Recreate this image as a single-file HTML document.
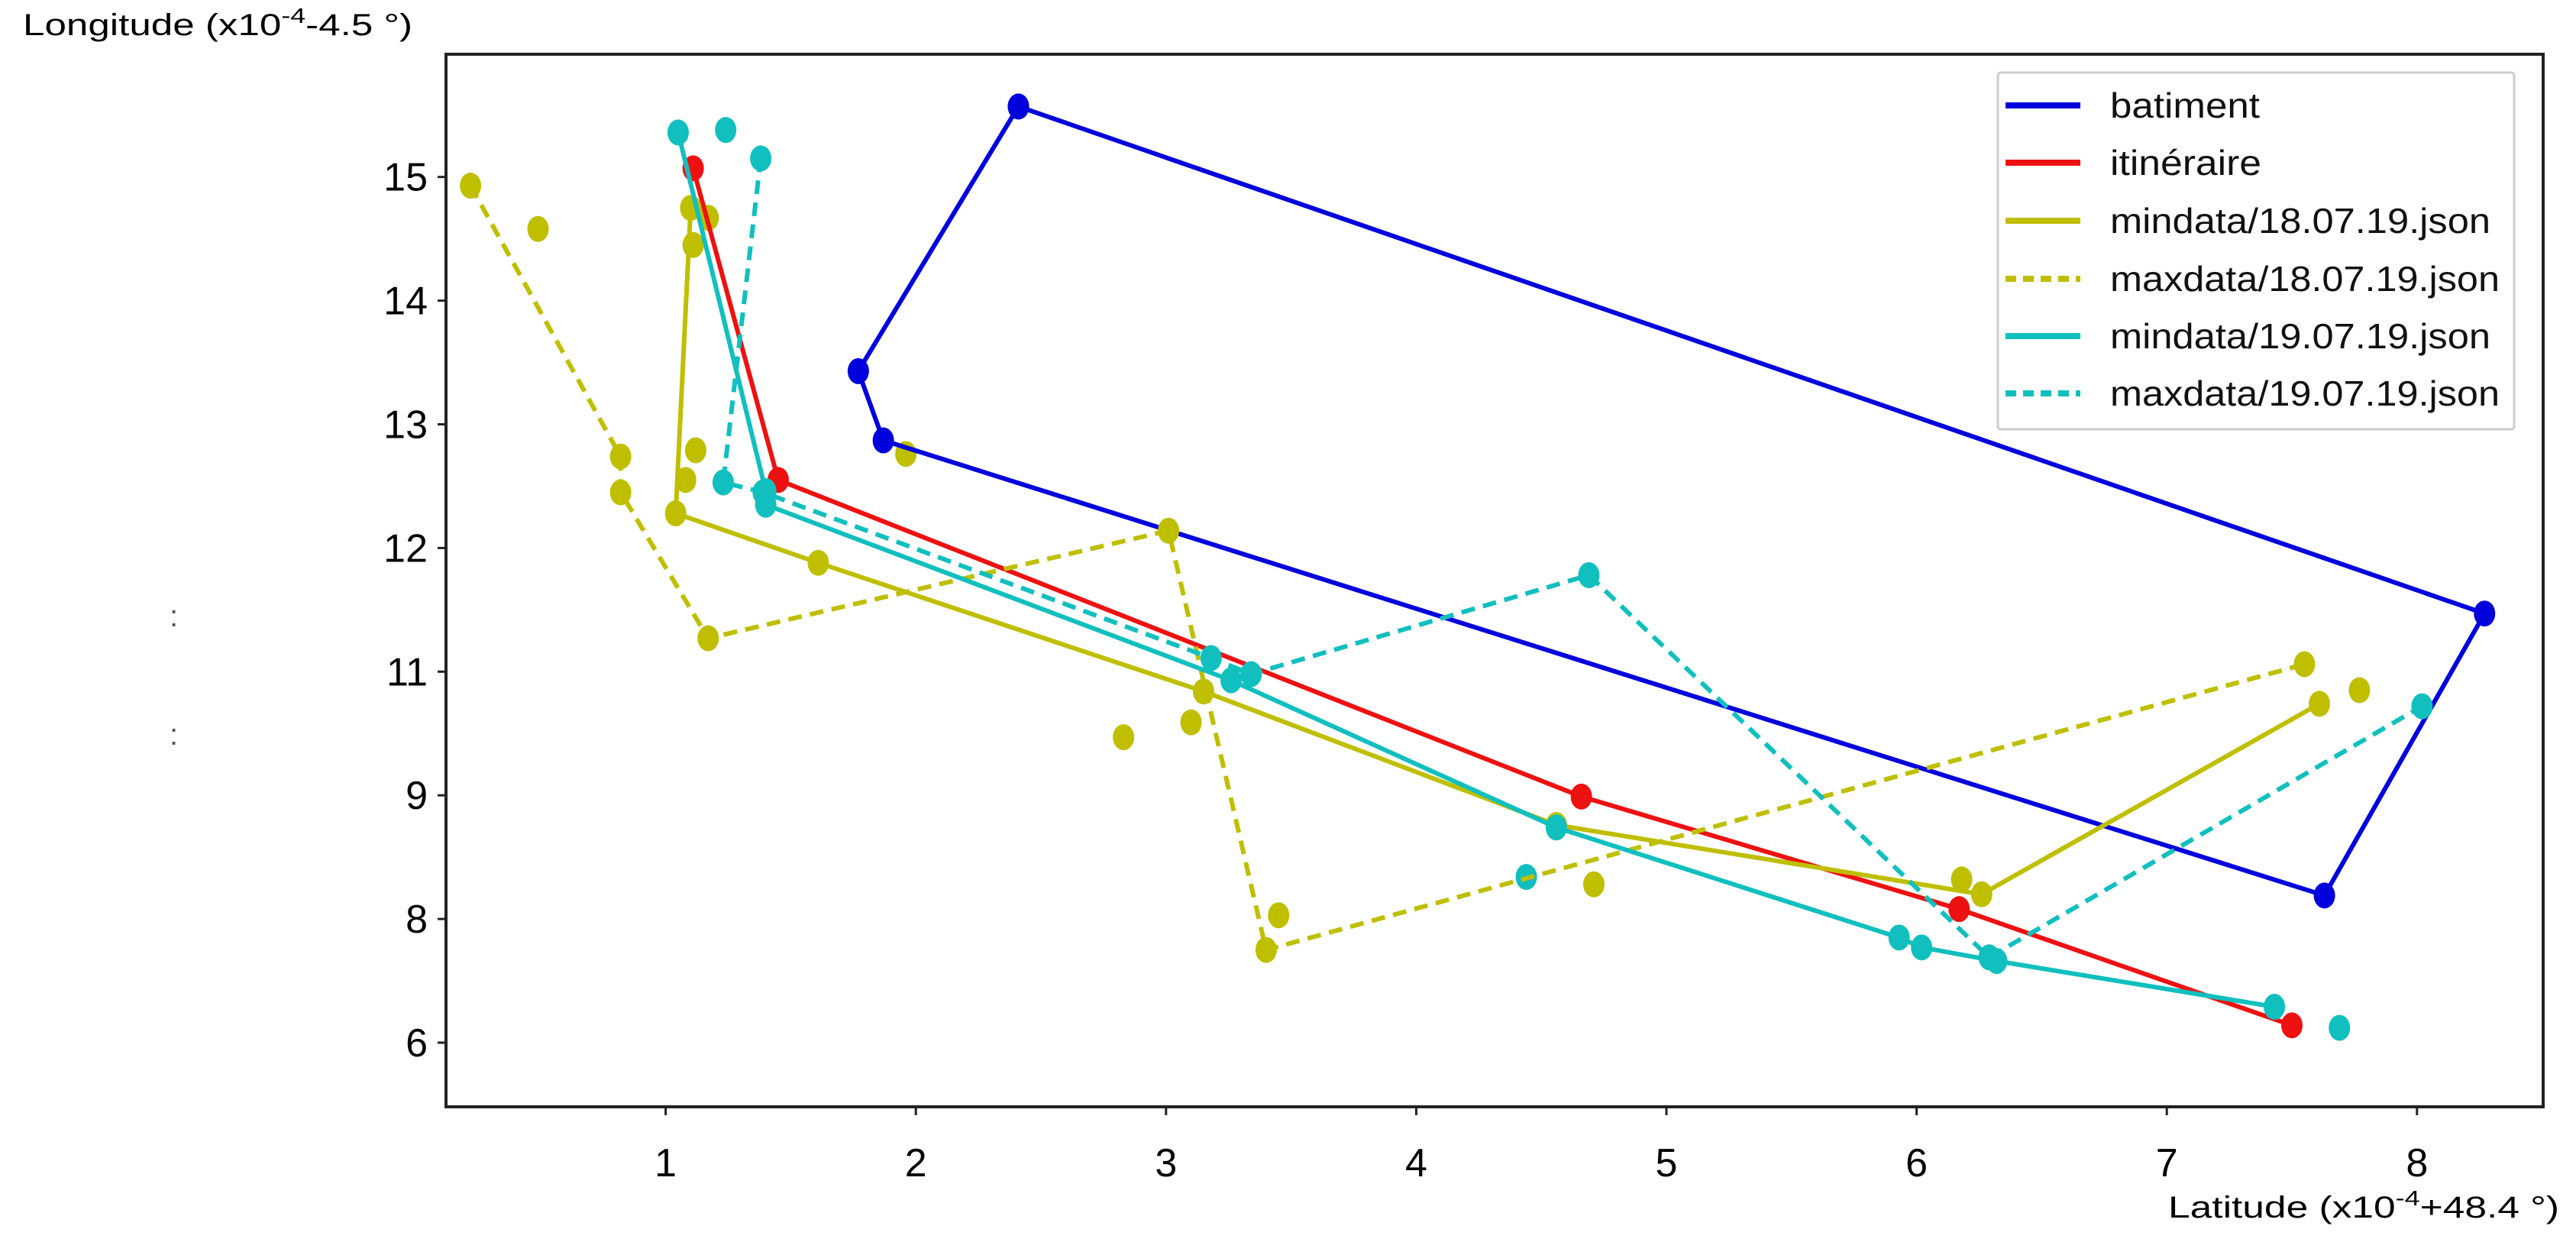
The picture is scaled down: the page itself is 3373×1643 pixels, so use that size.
<!DOCTYPE html>
<html><head><meta charset="utf-8"><style>
html,body{margin:0;padding:0;background:#fff;}
svg{display:block;font-family:"Liberation Sans",sans-serif;}
</style></head><body>
<svg id="chart" width="3373" height="1643" viewBox="0 0 3373 1643" xmlns="http://www.w3.org/2000/svg">
<rect x="0" y="0" width="3373" height="1643" fill="#fff"/>
<g id="plot"></g>
<rect x="584" y="71" width="2746" height="1378" fill="none" stroke="#222" stroke-width="4"/>
<g id="ticks"></g>
<text x="30" y="46" font-size="40" fill="#000" textLength="510" lengthAdjust="spacingAndGlyphs">Longitude (x10<tspan dy="-16" font-size="28">-4</tspan><tspan dy="16">-4.5 °)</tspan></text>
<text x="2839" y="1594" font-size="40" fill="#000" textLength="512" lengthAdjust="spacingAndGlyphs">Latitude (x10<tspan dy="-16" font-size="28">-4</tspan><tspan dy="16">+48.4 °)</tspan></text>
<text x="222" y="820" font-size="40" fill="#555">:</text>
<text x="222" y="975" font-size="40" fill="#555">:</text>
<g id="legend">
<rect x="2616" y="95" width="676" height="467" fill="#fff" stroke="#ccc" stroke-width="3" rx="4"/>
</g>
</svg>
<script>
const xTicks=[1,2,3,4,5,6,7,8];
const xTickLabels=["1","2","3","4","5","6","7","8"];
const yTicks=[8,9,10,11,12,13,14,15];
const yTickLabels=["6","8","9","11","12","13","14","15"];
const seriesNames=["batiment","itinéraire","mindata/18.07.19.json","maxdata/18.07.19.json","mindata/19.07.19.json","maxdata/19.07.19.json"];
const batiment=[[2.41,15.57],[8.27,11.47],[7.63,9.19],[1.87,12.87],[1.77,13.43],[2.41,15.57]];
const itineraire=[[1.11,15.07],[1.45,12.55],[4.66,9.99],[6.17,9.08],[7.50,8.14]];
const min18=[[1.10,14.75],[1.04,12.28],[1.61,11.88],[3.15,10.84],[4.56,9.76],[6.26,9.20],[7.61,10.74]];
const max18=[[0.22,14.93],[0.82,12.74],[0.82,12.45],[1.17,11.27],[3.01,12.14],[3.40,8.75],[7.55,11.06]];
const min19=[[1.05,15.36],[1.40,12.46],[1.40,12.35],[3.26,10.93],[4.56,9.74],[5.93,8.85],[6.02,8.77],[6.32,8.66],[7.43,8.29]];
const max19=[[1.38,15.15],[1.23,12.53],[1.39,12.45],[3.18,11.11],[3.34,10.98],[4.69,11.78],[6.29,8.69],[8.02,10.72]];
const extra18=[[0.49,14.58],[1.11,14.45],[1.17,14.67],[1.12,12.79],[1.08,12.55],[1.96,12.76],[2.83,10.47],[3.10,10.59],[3.45,9.03],[4.71,9.28],[6.18,9.32],[7.77,10.85]];
const extra19=[[1.24,15.38],[4.44,9.34],[7.69,8.12]];

const NS="http://www.w3.org/2000/svg";
function X(v){return 544+v*327.6;}
function Y(v){return 231.7+(15-v)*161.9;}
function mk(tag,attrs,parent){const e=document.createElementNS(NS,tag);for(const k in attrs)e.setAttribute(k,attrs[k]);parent.appendChild(e);return e;}
const plot=document.getElementById('plot'),ticks=document.getElementById('ticks'),legend=document.getElementById('legend');
const styles=[
 {data:batiment,color:"#0000dd",dash:null,name:"series-batiment"},
 {data:itineraire,color:"#ee1111",dash:null,name:"series-itineraire"},
 {data:min18,color:"#bfbf00",dash:null,name:"series-mindata-18"},
 {data:max18,color:"#bfbf00",dash:"18 11",name:"series-maxdata-18"},
 {data:min19,color:"#11bfbf",dash:null,name:"series-mindata-19"},
 {data:max19,color:"#11bfbf",dash:"18 11",name:"series-maxdata-19"}];
function dots(arr,color,name){
 arr.forEach(p=>{
  const c=mk('ellipse',{cx:X(p[0]),cy:Y(p[1]),rx:14,ry:17,fill:color},plot);
  
  
 });
}
dots(extra18,"#bfbf00","extra-point-18");
dots(extra19,"#11bfbf","extra-point-19");
styles.forEach(s=>{
 const pl=mk('polyline',{points:s.data.map(p=>X(p[0])+','+Y(p[1])).join(' '),fill:'none',stroke:s.color,'stroke-width':6},plot);
 if(s.dash)pl.setAttribute('stroke-dasharray',s.dash);
 
 
 dots(s.data,s.color,s.name+'-point');
});
xTicks.forEach((t,i)=>{
 const l=mk('line',{x1:X(t),x2:X(t),y1:1449,y2:1460,stroke:'#222','stroke-width':3},ticks);
 
 
 const tx=mk('text',{x:X(t),y:1540,'font-size':52,'text-anchor':'middle',fill:'#000'},ticks);
 tx.textContent=xTickLabels[i];
 
 
});
yTicks.forEach((t,i)=>{
 const l=mk('line',{x1:573,x2:584,y1:Y(t),y2:Y(t),stroke:'#222','stroke-width':3},ticks);
 
 
 const tx=mk('text',{x:560,y:Y(t)+18,'font-size':52,'text-anchor':'end',fill:'#000'},ticks);
 tx.textContent=yTickLabels[i];
 
 
});
const legY=[138,213,289,365,440,515];
styles.forEach((s,i)=>{
 const l=mk('line',{x1:2626,x2:2724,y1:legY[i],y2:legY[i],stroke:s.color,'stroke-width':8},legend);
 if(s.dash){l.setAttribute('stroke-dasharray','14 9');}
 
 
 const tx=mk('text',{x:2763,y:legY[i]+16,'font-size':46,fill:'#111'},legend);
 tx.textContent=seriesNames[i];
 const w=seriesNames[i].length>12?(seriesNames[i].startsWith('max')?510:498):(i==0?196:198);
 tx.setAttribute('textLength',w);
 tx.setAttribute('lengthAdjust','spacingAndGlyphs');
 
 
});
</script>
</body></html>
